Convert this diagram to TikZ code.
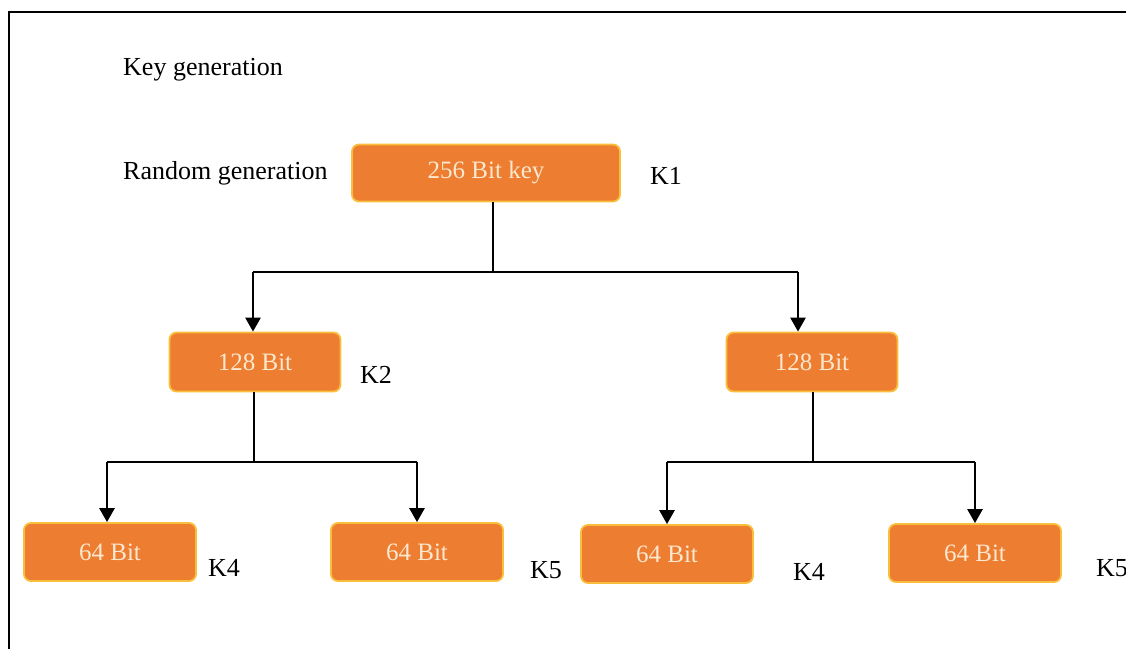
\documentclass[tikz,border=0pt]{standalone}
\usepackage{fontspec}
\setmainfont{Liberation Serif}
\usepackage{xcolor}
\usepackage{tikz}
\usetikzlibrary{arrows.meta}

\definecolor{boxorange}{HTML}{ED7D31}
\definecolor{boxrim}{HTML}{F9BE3C}
\definecolor{boxtext}{HTML}{FBE8CF}

\begin{document}
\begin{tikzpicture}[x=1pt,y=-1pt,>={Triangle[length=14pt,width=15pt]},
  bitbox/.style={draw=boxrim,line width=1.8pt,fill=boxorange,rounded corners=7pt,text=boxtext,font=\fontsize{25}{28}\selectfont,inner sep=0pt},
  keylabel/.style={anchor=west,inner sep=0pt,font=\fontsize{26}{30}\selectfont},
  link/.style={line width=1.3pt},
  down/.style={->,line width=2.6pt}]
  \useasboundingbox (0,0) rectangle (1126,649);
  \draw[line width=2.4pt] (1126,12) -| (9,649);
  \node[keylabel] (keygen) at (123,70) {Key generation};
  \node[keylabel] (randgen) at (123,173) {Random generation};
  \node[bitbox,minimum width=268pt,minimum height=57pt] (k256) at (486,173) {256 Bit key};
  \node[keylabel] (k1) at (650,176) {K1};
  \node[bitbox,minimum width=171pt,minimum height=59pt] (b128l) at (255,362) {128 Bit};
  \node[bitbox,minimum width=171pt,minimum height=59pt] (b128r) at (812,362) {128 Bit};
  \node[keylabel] (k2) at (360,375) {K2};
  \node[bitbox,minimum width=172pt,minimum height=58pt] (b64a) at (110,552) {64 Bit};
  \node[bitbox,minimum width=172pt,minimum height=58pt] (b64b) at (417,552) {64 Bit};
  \node[bitbox,minimum width=172pt,minimum height=58pt] (b64c) at (667,554) {64 Bit};
  \node[bitbox,minimum width=172pt,minimum height=58pt] (b64d) at (975,553) {64 Bit};
  \node[keylabel] (k4a) at (208,568) {K4};
  \node[keylabel] (k5a) at (530,570) {K5};
  \node[keylabel] (k4b) at (793,572) {K4};
  \node[keylabel] (k5b) at (1096,568) {K5};
  \coordinate (j1) at (493,272);
  \coordinate (j2) at (254,462);
  \coordinate (j3) at (813,462);
  % top level split
  \draw[link] (k256.south -| j1) -- (j1);
  \draw[link] ([xshift=-2pt]b128l.north |- j1) -- ([xshift=-14pt]b128r.north |- j1);
  \draw[down] ([xshift=-2pt]b128l.north |- j1) -- ([xshift=-2pt]b128l.north);
  \draw[down] ([xshift=-14pt]b128r.north |- j1) -- ([xshift=-14pt]b128r.north);
  % left branch
  \draw[link] (b128l.south -| j2) -- (j2);
  \draw[link] ([xshift=-3pt]b64a.north |- j2) -- (b64b.north |- j2);
  \draw[down] ([xshift=-3pt]b64a.north |- j2) -- ([xshift=-3pt]b64a.north);
  \draw[down] (b64b.north |- j2) -- (b64b.north);
  % right branch
  \draw[link] (b128r.south -| j3) -- (j3);
  \draw[link] (b64c.north |- j3) -- (b64d.north |- j3);
  \draw[down] (b64c.north |- j3) -- (b64c.north);
  \draw[down] (b64d.north |- j3) -- (b64d.north);
\end{tikzpicture}
\end{document}
